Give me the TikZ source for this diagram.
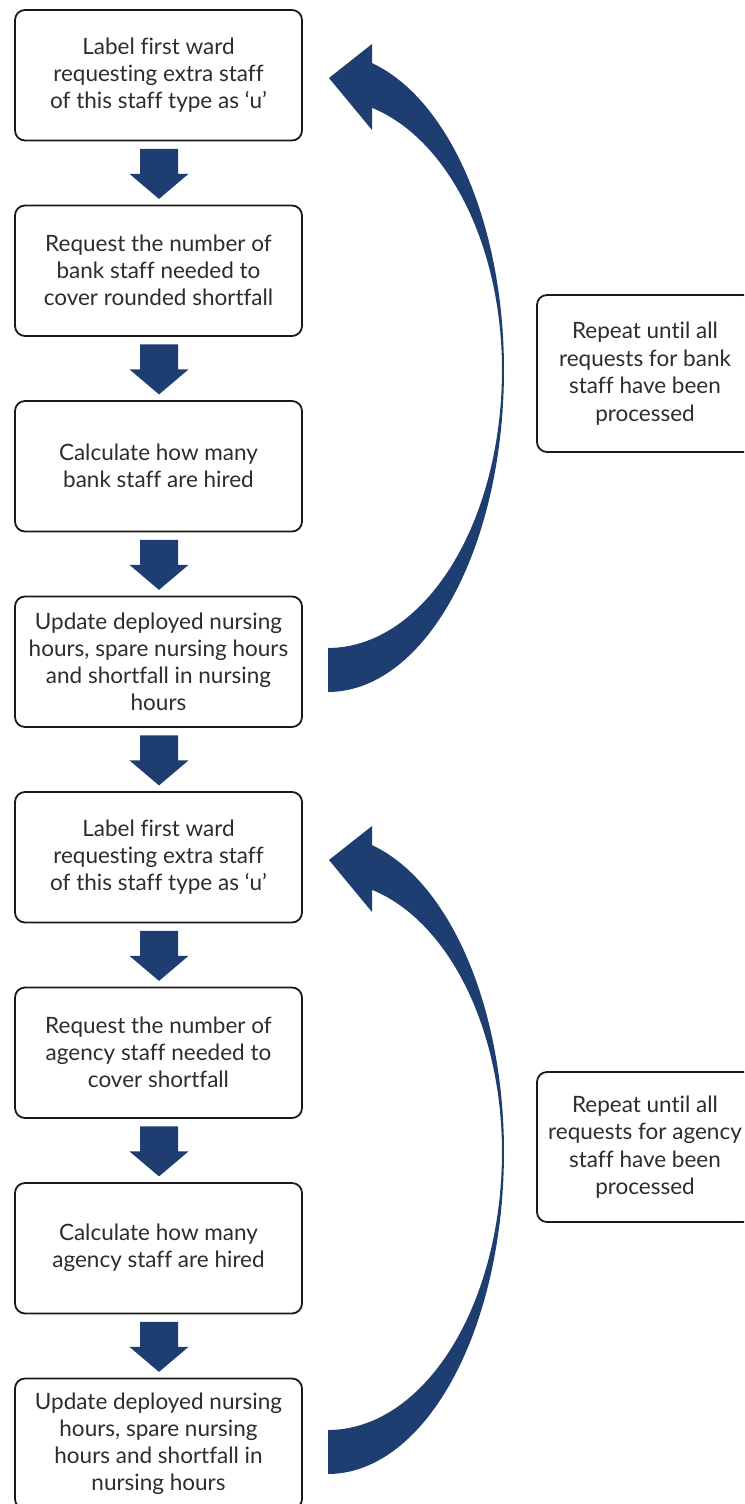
\documentclass[tikz,border=0pt]{standalone}
\usepackage{fontspec}
\setmainfont{Lato}[Ligatures={NoCommon}]
\usetikzlibrary{calc}
\definecolor{arrowblue}{RGB}{30,62,114}
\definecolor{textgray}{RGB}{45,45,45}
\tikzset{
  stepbox/.style={draw=black!90, line width=1.8pt, rounded corners=10pt, fill=white,
    minimum width=287pt, minimum height=130.5pt, inner sep=0pt, align=center,
    text=textgray, font=\fontsize{22.5}{27}\selectfont},
  notebox/.style={draw=black!90, line width=1.8pt, rounded corners=10pt, fill=white,
    minimum width=216pt, inner sep=0pt, align=center,
    text=textgray, font=\fontsize{22.5}{27.5}\selectfont},
  blockarrow/.style={fill=arrowblue}
}
\begin{document}
\begin{tikzpicture}[x=1pt,y=-1pt]
\path[use as bounding box] (0,0) rectangle (744,1504);
\clip (0,0) rectangle (744,1504);

% left column boxes
\node[stepbox] (b1) at (158.5,75.25) {Label first ward\\requesting extra staff\\of this staff type as ‘u’};
\node[stepbox] (b2) at (158.5,270.75) {Request the number of\\bank staff needed to\\cover rounded shortfall};
\node[stepbox] (b3) at (158.5,466.25) {Calculate how many\\bank staff are hired};
\node[stepbox] (b4) at (158.5,661.75) {Update deployed nursing\\hours, spare nursing hours\\and shortfall in nursing\\hours};
\node[stepbox] (b5) at (158.5,857.25) {Label first ward\\requesting extra staff\\of this staff type as ‘u’};
\node[stepbox] (b6) at (158.5,1052.75) {Request the number of\\agency staff needed to\\cover shortfall};
\node[stepbox] (b7) at (158.5,1248.25) {Calculate how many\\agency staff are hired};
\node[stepbox] (b8) at (158.5,1443.75) {Update deployed nursing\\hours, spare nursing\\hours and shortfall in\\nursing hours};

% right notes
\node[notebox, minimum height=157pt] (n1) at (645,373.5) {Repeat until all\\requests for bank\\staff have been\\processed};
\node[notebox, minimum height=150pt] (n2) at (645,1147) {Repeat until all\\requests for agency\\staff have been\\processed};

% down block arrows
\foreach \i/\j in {1/2,2/3,3/4,4/5,5/6,6/7,7/8}{
  \fill[blockarrow] ($(b\i.south)+(-18.5,7.5)$) -- ++(38,0) -- ++(0,25) -- ++(10.5,0)
     -- ($(b\i.south)+(0.5,57.5)$) -- ($(b\i.south)+(-29,32.5)$) -- ++(10.5,0) -- cycle;
}

% curved return arrows
\foreach \off in {0,782}{
\begin{scope}[shift={(0,\off)}]
\fill[blockarrow] (328,648)
  -- plot[domain=90:0,samples=50] ({328+174*cos(\x)},{370+278*sin(\x)})
  -- plot[domain=0:-75.35,samples=50] ({328+174*cos(\x)},{370+271*sin(\x)})
  -- (372,130) -- (329,78) -- (372,44) -- (372,63)
  -- plot[domain=-75.52:0,samples=50] ({328+176*cos(\x)},{370+317*sin(\x)})
  -- plot[domain=0:90,samples=50] ({328+176*cos(\x)},{370+322*sin(\x)})
  -- cycle;
\end{scope}
}
\end{tikzpicture}
\end{document}
